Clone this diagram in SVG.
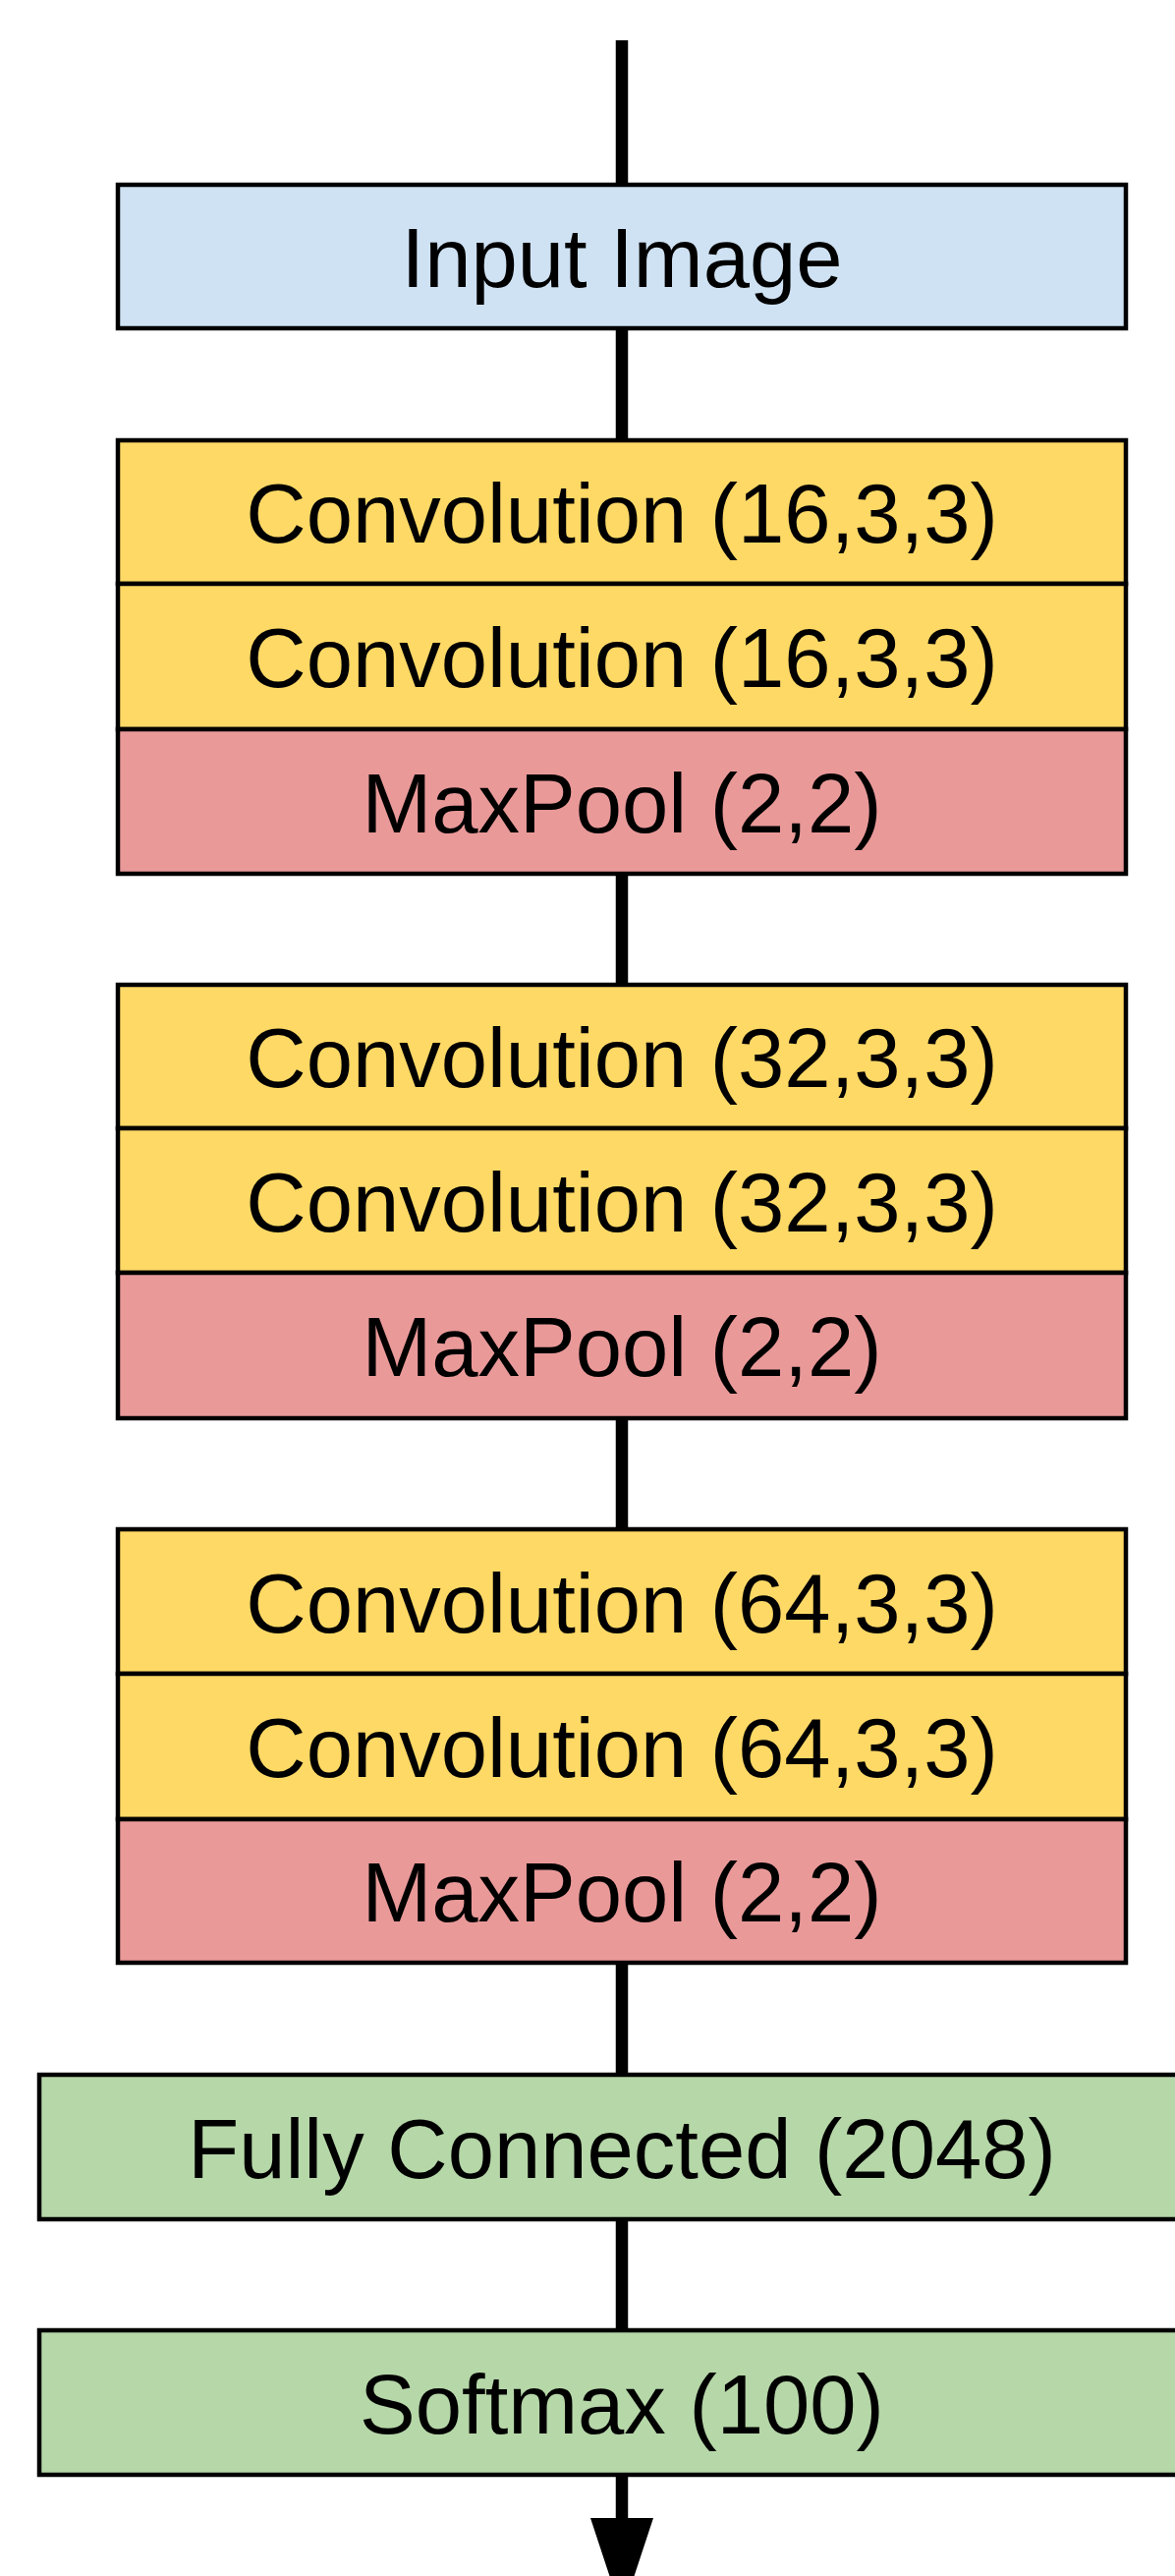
<svg xmlns="http://www.w3.org/2000/svg" width="1196" height="2621" viewBox="0 0 1196 2621">
<style>
  .box { stroke: #000; stroke-width: 4.5; }
  .in { fill: #cfe2f3; }
  .conv { fill: #ffd966; }
  .pool { fill: #ea9999; }
  .fc { fill: #b6d7a8; }
  .lbl { font-family: "Liberation Sans", Arial, sans-serif; font-size: 85px; fill: #000; text-anchor: middle; }
  .edge { stroke: #000; stroke-width: 12.5; fill: none; }
</style>
<rect width="1196" height="2621" fill="#ffffff"/>
<g id="connectors">
  <line class="edge" x1="633" y1="41" x2="633" y2="190"/>
  <line class="edge" x1="633" y1="332" x2="633" y2="450"/>
  <line class="edge" x1="633" y1="887" x2="633" y2="1004"/>
  <line class="edge" x1="633" y1="1441" x2="633" y2="1558"/>
  <line class="edge" x1="633" y1="1995" x2="633" y2="2113"/>
  <line class="edge" x1="633" y1="2256" x2="633" y2="2373"/>
  <line class="edge" x1="633" y1="2516" x2="633" y2="2564"/>
  <polygon points="601,2562 665,2562 633,2659" fill="#000"/>
</g>
<g id="input-image">
  <rect class="box in" x="120" y="188" width="1026" height="146"/>
  <text class="lbl" x="633" y="292">Input Image</text>
</g>
<g id="block1">
  <g id="conv1a">
    <rect class="box conv" x="120" y="448" width="1026" height="146"/>
    <text class="lbl" x="633" y="552">Convolution (16,3,3)</text>
  </g>
  <g id="conv1b">
    <rect class="box conv" x="120" y="594" width="1026" height="148"/>
    <text class="lbl" x="633" y="699">Convolution (16,3,3)</text>
  </g>
  <g id="pool1">
    <rect class="box pool" x="120" y="742" width="1026" height="147"/>
    <text class="lbl" x="633" y="847">MaxPool (2,2)</text>
  </g>
</g>
<g id="block2">
  <g id="conv2a">
    <rect class="box conv" x="120" y="1002" width="1026" height="146"/>
    <text class="lbl" x="633" y="1106">Convolution (32,3,3)</text>
  </g>
  <g id="conv2b">
    <rect class="box conv" x="120" y="1148" width="1026" height="147"/>
    <text class="lbl" x="633" y="1253">Convolution (32,3,3)</text>
  </g>
  <g id="pool2">
    <rect class="box pool" x="120" y="1295" width="1026" height="148"/>
    <text class="lbl" x="633" y="1400">MaxPool (2,2)</text>
  </g>
</g>
<g id="block3">
  <g id="conv3a">
    <rect class="box conv" x="120" y="1556" width="1026" height="147"/>
    <text class="lbl" x="633" y="1661">Convolution (64,3,3)</text>
  </g>
  <g id="conv3b">
    <rect class="box conv" x="120" y="1703" width="1026" height="148"/>
    <text class="lbl" x="633" y="1808">Convolution (64,3,3)</text>
  </g>
  <g id="pool3">
    <rect class="box pool" x="120" y="1851" width="1026" height="146"/>
    <text class="lbl" x="633" y="1955">MaxPool (2,2)</text>
  </g>
</g>
<g id="fully-connected">
  <rect class="box fc" x="40" y="2111" width="1186" height="147"/>
  <text class="lbl" x="633" y="2216">Fully Connected (2048)</text>
</g>
<g id="softmax">
  <rect class="box fc" x="40" y="2371" width="1186" height="147"/>
  <text class="lbl" x="633" y="2476">Softmax (100)</text>
</g>
</svg>
